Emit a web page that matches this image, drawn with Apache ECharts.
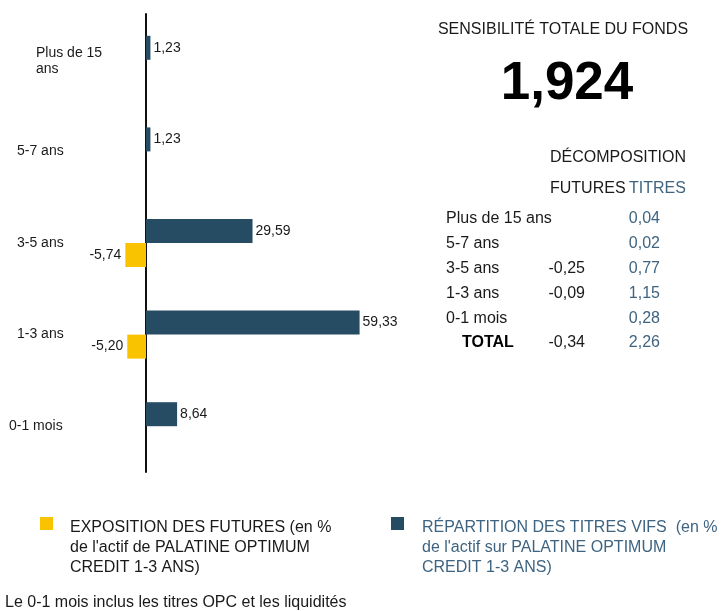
<!DOCTYPE html>
<html><head><meta charset="utf-8">
<script src="https://cdn.jsdelivr.net/npm/echarts@6/dist/echarts.min.js"></script>
<style>html,body{margin:0;padding:0;background:#fff}#c{width:722px;height:611px}</style>
</head><body><div id="c"></div>
<script>
const categories = ['0-1 mois', '1-3 ans', '3-5 ans', '5-7 ans', 'Plus de 15 ans'];
const futuresValues = [null, -5.20, -5.74, null, null];
const titresValues = [8.64, 59.33, 29.59, 1.23, 1.23];
const seriesNames = [
  "EXPOSITION DES FUTURES (en %\nde l'actif de PALATINE OPTIMUM\nCREDIT 1-3 ANS)",
  "RÉPARTITION DES TITRES VIFS  (en %\nde l'actif sur PALATINE OPTIMUM\nCREDIT 1-3 ANS)"
];
const totalTitle = 'SENSIBILITÉ TOTALE DU FONDS';
const totalValue = '1,924';
const decompTitle = 'DÉCOMPOSITION';
const colHeads = ['FUTURES', 'TITRES'];
const tableRows = ['Plus de 15 ans', '5-7 ans', '3-5 ans', '1-3 ans', '0-1 mois', 'TOTAL'];
const tableFutures = ['', '', '-0,25', '-0,09', '', '-0,34'];
const tableTitres = ['0,04', '0,02', '0,77', '1,15', '0,28', '2,26'];
const footnote = 'Le 0-1 mois inclus les titres OPC et les liquidités';

const YELLOW = '#F9C300', NAVY = '#264C63', BLUETXT = '#3E6481', TXT = '#1a1a1a';
const FONT = "'Liberation Sans', Arial, sans-serif";
const fmt = v => Number(v).toFixed(2).replace('.', ',');

const chart = echarts.init(document.getElementById('c'), null, {renderer: 'canvas'});

const graphics = [];
const T = (x, y, text, font, fill, align) => graphics.push({type: 'text', x: x, y: y,
  style: {text: text, font: font, fill: fill, align: align || 'left', verticalAlign: 'middle'}});
T(563, 30, totalTitle, '16px ' + FONT, TXT, 'center');
T(567, 84, totalValue, 'bold 53px ' + FONT, '#000', 'center');
T(550, 158, decompTitle, '16px ' + FONT, TXT);
T(550, 189, colHeads[0], '16px ' + FONT, TXT);
T(629, 189, colHeads[1], '16px ' + FONT, BLUETXT);
const rowY = [219, 244, 269, 294, 319, 343];
tableRows.forEach((r, i) => {
  const isTotal = i === tableRows.length - 1;
  T(isTotal ? 462 : 446, rowY[i], r, (isTotal ? 'bold ' : '') + '16px ' + FONT, isTotal ? '#000' : TXT);
  if (tableFutures[i]) T(585, rowY[i], tableFutures[i], '16px ' + FONT, TXT, 'right');
  T(660, rowY[i], tableTitres[i], '16px ' + FONT, BLUETXT, 'right');
});
T(5, 603, footnote, '16px ' + FONT, TXT);

// legend icon: square at top of a taller box so that the 3-line text starts level with it
const ICON = 'path://M0,0L13,0L13,13L0,13Z M0,61L0.01,61L0.01,61.01Z';
const legendBase = {
  orient: 'horizontal', icon: ICON, itemWidth: 13, itemHeight: 61, padding: 0, top: 517,
  selectedMode: false
};

const option = {
  animation: false,
  backgroundColor: '#fff',
  grid: {left: 110, right: 252, top: 14, bottom: 139, containLabel: false, outerBoundsMode: 'none'},
  xAxis: {type: 'value', min: -10, max: 90, show: false, splitLine: {show: false}},
  yAxis: {
    type: 'category', data: categories,
    axisLine: {show: true, onZero: true, lineStyle: {color: '#111', width: 2}},
    axisTick: {show: false},
    axisLabel: {
      margin: 2, color: TXT, fontSize: 14, fontFamily: FONT,
      formatter: v => v === 'Plus de 15 ans' ? '{b|Plus de 15}\n{b|ans}' : (v === '0-1 mois' ? '{a|' + v + '}' : '{c|' + v + '}'),
      rich: {
        a: {fontSize: 14, fontFamily: FONT, color: TXT, width: 99, align: 'left'},
        c: {fontSize: 14, fontFamily: FONT, color: TXT, width: 91, align: 'left'},
        b: {fontSize: 14, fontFamily: FONT, color: TXT, width: 72, align: 'left', lineHeight: 16, padding: [3, 0, 0, 0]}
      }
    }
  },
  legend: [
    Object.assign({}, legendBase, {left: 40, data: [seriesNames[0]],
      textStyle: {fontSize: 16, fontFamily: FONT, color: TXT, lineHeight: 20, padding: [0, 0, 0, 12]}}),
    Object.assign({}, legendBase, {left: 391, data: [seriesNames[1]],
      textStyle: {fontSize: 16, fontFamily: FONT, color: BLUETXT, lineHeight: 20, padding: [0, 0, 0, 13]}})
  ],
  graphic: graphics,
  series: [
    {
      name: seriesNames[1], type: 'bar', data: titresValues, barWidth: 24, barGap: '0%',
      itemStyle: {color: NAVY},
      label: {show: true, position: 'right', distance: 3, color: TXT, fontSize: 14, fontFamily: FONT, formatter: p => fmt(p.value)}
    },
    {
      name: seriesNames[0], type: 'bar', data: futuresValues, barWidth: 24, barGap: '0%',
      itemStyle: {color: YELLOW},
      label: {show: true, position: 'left', distance: 4, color: TXT, fontSize: 14, fontFamily: FONT, formatter: p => fmt(p.value)}
    }
  ]
};
chart.setOption(option);
</script>
</body></html>
